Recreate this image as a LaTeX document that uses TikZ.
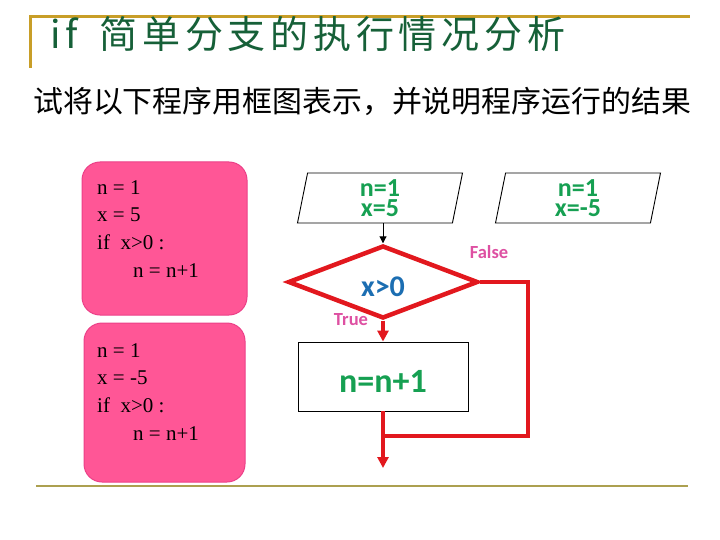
\documentclass[tikz,border=0pt]{standalone}
\usepackage{fontspec}
\setmainfont{Liberation Serif}
\newfontfamily\cjkfont{Noto Sans CJK SC}
\newfontfamily\cjktitlefont[LetterSpace=12.5]{Noto Sans CJK SC}
\newfontfamily\calfont{Carlito}
\usetikzlibrary{shapes.geometric, arrows.meta}
\definecolor{goldline}{RGB}{200,158,40}
\definecolor{oliveline}{RGB}{172,160,80}
\definecolor{titlegreen}{RGB}{22,96,56}
\definecolor{pinkfill}{RGB}{255,86,150}
\definecolor{pinkedge}{RGB}{236,64,136}
\definecolor{fgreen}{RGB}{22,160,82}
\definecolor{fblue}{RGB}{28,110,178}
\definecolor{lpink}{RGB}{222,80,162}
\definecolor{fred}{RGB}{226,24,30}
\tikzset{
  codebox/.style={draw=pinkedge, fill=pinkfill, rounded corners=18pt, line width=1pt, inner sep=0pt},
  codeline/.style={anchor=base west, inner sep=0pt, font=\fontsize{21}{25}\selectfont},
  para/.style={draw, line width=0.9pt, trapezium, trapezium left angle=75, trapezium right angle=105,
    trapezium stretches body, minimum width=165pt, minimum height=50pt, inner sep=0pt,
    align=center, text=fgreen, font=\calfont\bfseries\fontsize{26}{20.5}\selectfont},
  decision/.style={draw=fred, line width=4.5pt, diamond, minimum width=190pt, minimum height=64pt, inner sep=0pt,
    text height=29pt, text depth=0pt,
    text=fblue, font=\calfont\bfseries\fontsize{30}{32}\selectfont},
  process/.style={draw, line width=0.9pt, minimum width=170pt, minimum height=69pt, inner sep=0pt,
    text height=32pt, text depth=0pt,
    text=fgreen, font=\calfont\bfseries\fontsize{34}{36}\selectfont},
  redline/.style={draw=fred, line width=4.5pt},
  redarrow/.style={redline, -{Triangle[length=11pt,width=11pt]}},
  blackarrow/.style={draw, line width=1pt, -{Triangle[length=7pt,width=7pt]}},
  branchlabel/.style={text=lpink, font=\calfont\bfseries\fontsize{18.5}{20}\selectfont, inner sep=0pt}
}
\begin{document}
\begin{tikzpicture}[x=1pt,y=-1pt]
\useasboundingbox[fill=white] (0,0) rectangle (720,540);
% header
\draw[goldline, line width=3pt] (30,68) -- (30,17) -- (690,17);
\node[anchor=base west, inner sep=0pt, text=titlegreen] (title) at (50,49)
  {\cjktitlefont\fontsize{38}{40}\selectfont if\hspace{22pt}简单分支的执行情况分析};
\node[anchor=base west, inner sep=0pt] (sub) at (33,113)
  {\cjkfont\fontsize{29.9}{32}\selectfont 试将以下程序用框图表示，并说明程序运行的结果};
% code boxes
\node[codebox, minimum width=165pt, minimum height=153pt] (box1) at (164.5,238.5) {};
\node[codeline] (c1a) at (97,195) {n = 1};
\node[codeline] (c1b) at (97,222) {x = 5};
\node[codeline] (c1c) at (97,249) {if\enspace x>0 :};
\node[codeline] (c1d) at (133,277) {n = n+1};
\node[codebox, minimum width=161pt, minimum height=159pt] (box2) at (164.5,402.5) {};
\node[codeline] (c2a) at (97,357) {n = 1};
\node[codeline] (c2b) at (97,384) {x = -5};
\node[codeline] (c2c) at (97,412) {if\enspace x>0 :};
\node[codeline] (c2d) at (133,440) {n = n+1};
% flowchart
\node[para] (in1) at (380,198) {n=1\\x=5};
\node[para] (in2) at (578,198) {n=1\\x=-5};
\node[decision] (dia) at (383,282) {x>0};
\node[process] (proc) at (383,376.5) {n=n+1};
\coordinate (corner) at (528,436);
\coordinate (exitpt) at (383,468);
\draw[blackarrow] (dia.north |- in1.south) -- (dia.north);
\draw[redarrow] (dia.south) -- (proc.north);
\draw[redline, line join=miter] (dia.east) -| (corner) -- (proc.south |- corner);
\draw[redarrow] (proc.south) -- (exitpt);
\node[branchlabel] (flabel) at (489,252) {False};
\node[branchlabel] (tlabel) at (351,320) {True};
% footer
\draw[oliveline, line width=2.5pt] (36,486) -- (688,486);
\end{tikzpicture}
\end{document}
